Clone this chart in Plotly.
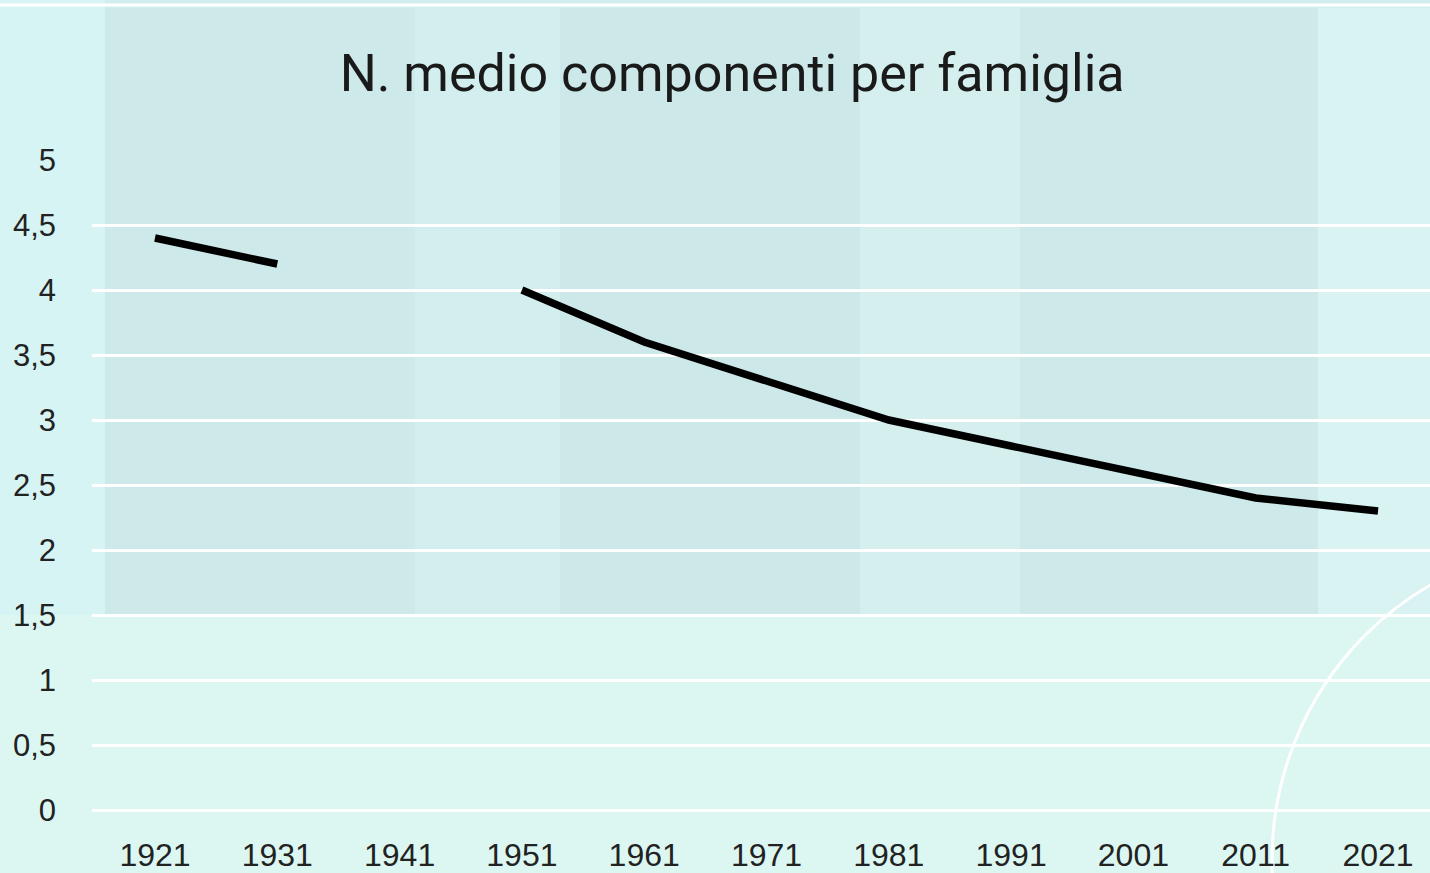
import plotly.graph_objects as go

# Average household size by census year (1941 census not held)
anni = ['1921', '1931', '1941', '1951', '1961', '1971', '1981', '1991', '2001', '2011', '2021']
componenti = [4.4, 4.2, None, 4.0, 3.6, 3.3, 3.0, 2.8, 2.6, 2.4, 2.3]
y_ticks = [0, 0.5, 1, 1.5, 2, 2.5, 3, 3.5, 4, 4.5, 5]

W, H = 1430, 873
L, R, T, B = 92, 0, 160, 63
PW, PH = W - L - R, H - T - B


def px_x(v):
    return (v - L) / PW


def px_y(v):
    return (H - B - v) / PH


def rect(x0, y0, x1, y1, color):
    return dict(type='rect', xref='paper', yref='paper', layer='below',
                x0=px_x(x0), x1=px_x(x1), y0=px_y(y1), y1=px_y(y0),
                fillcolor=color, line=dict(width=0))


# soft background panels (blurred picture behind the chart)
shapes = [
    rect(0, 0, W, H, '#d2eded'),
    rect(0, 0, 105, 620, '#d6f4f4'),
    rect(105, 8, 415, 615, '#cde9e9'),
    rect(415, 8, 560, 615, '#d3eeee'),
    rect(560, 8, 860, 615, '#cce8e8'),
    rect(860, 8, 1020, 615, '#d4efee'),
    rect(1020, 8, 1318, 615, '#cde9e9'),
    rect(1318, 8, W, 615, '#d8f3f2'),
    rect(0, 615, W, H, '#dcf7f2'),
    dict(type='line', xref='paper', yref='paper', layer='below',
         x0=px_x(0), x1=px_x(W), y0=px_y(5), y1=px_y(5),
         line=dict(color='white', width=3)),
    dict(type='circle', xref='paper', yref='paper', layer='below',
         x0=px_x(1272), x1=px_x(1908), y0=px_y(1178), y1=px_y(542),
         line=dict(color='white', width=3)),
]

fig = go.Figure()
fig.add_trace(go.Scatter(
    x=anni,
    y=componenti,
    mode='lines',
    connectgaps=False,
    line=dict(color='black', width=7.5, shape='linear'),
    hovertemplate='%{x}: %{y}<extra></extra>'
))

fig.update_layout(
    width=W,
    height=H,
    margin=dict(l=L, r=R, t=T, b=B),
    paper_bgcolor='#d2eded',
    plot_bgcolor='rgba(0,0,0,0)',
    separators=',.',
    showlegend=False,
    shapes=shapes,
    title=dict(
        text='N. medio componenti per famiglia',
        x=0.512, xanchor='center',
        y=1 - 73 / H, yanchor='middle',
        font=dict(family='Roboto', size=52, color='#1a1a1a')
    ),
    font=dict(family='Liberation Sans, Arial', size=32, color='#222222'),
)

fig.update_xaxes(
    type='category',
    categoryarray=anni,
    range=[-0.515, 10.425],
    automargin=False,
    showgrid=False,
    showline=False,
    zeroline=False,
    ticks='',
    ticklabelstandoff=23,
    tickfont=dict(size=32, color='#222222'),
)

fig.update_yaxes(
    range=[0, 5],
    tickvals=y_ticks,
    automargin=False,
    showgrid=True,
    gridcolor='white',
    gridwidth=3,
    zeroline=True,
    zerolinecolor='white',
    zerolinewidth=3,
    showline=False,
    ticks='',
    ticklabelstandoff=35,
    tickfont=dict(size=31, color='#222222'),
)

fig.write_html("out.html", config={'displayModeBar': False},
               post_script="document.body.style.margin='0';")
